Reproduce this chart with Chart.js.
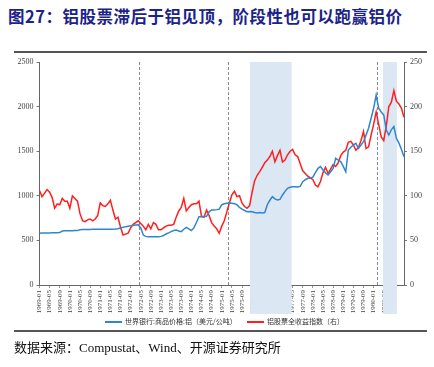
<!DOCTYPE html>
<html><head><meta charset="utf-8">
<script src="https://cdn.jsdelivr.net/npm/chart.js@4/dist/chart.umd.min.js"></script>
<style>
html,body{margin:0;padding:0;background:#fff;}
#wrap{position:relative;width:434px;height:367px;overflow:hidden;}
#title{position:absolute;left:8px;top:4px;font-family:"Noto Sans CJK SC";font-weight:bold;font-size:16.5px;color:#1b2388;white-space:nowrap;letter-spacing:0.5px;}
.rule{position:absolute;left:14px;width:413px;height:2px;background:#555;}
#src{position:absolute;left:14px;top:337px;font-family:"Liberation Serif","Noto Sans CJK SC";font-size:13px;color:#111;white-space:nowrap;}
#legend{position:absolute;top:315px;left:0;width:434px;height:12px;font-family:"Noto Sans CJK SC";font-size:7px;color:#333;}
.li{position:absolute;top:0;white-space:nowrap;line-height:12px;}
.sw{display:inline-block;width:17px;height:2px;vertical-align:middle;margin-right:3px;}
canvas{position:absolute;left:0;top:0;}
</style></head>
<body><div id="wrap">
<div id="title">图27：铝股票滞后于铝见顶，阶段性也可以跑赢铝价</div>
<div class="rule" style="top:51px"></div>
<canvas id="c" width="434" height="367"></canvas>
<div id="legend">
 <div class="li" style="left:105px"><span class="sw" style="background:#2f86cf"></span>世界银行:商品价格:铝（美元/公吨）</div>
 <div class="li" style="left:247px"><span class="sw" style="background:#ff1f1f"></span>铝股票全收益指数（右）</div>
</div>
<div class="rule" style="top:330px"></div>
<div id="src">数据来源：Compustat、Wind、开源证券研究所</div>
</div>
<script>
// tick labels every 4 months (month index 0 = 1969-01)
const tickLabels = ["1969-01","1969-05","1969-09","1970-01","1970-05","1970-09","1971-01","1971-05","1971-09",
 "1972-01","1972-05","1972-09","1973-01","1973-05","1973-09","1974-01","1974-05","1974-09",
 "1975-01","1975-05","1975-09","1976-01","1976-05","1976-09","1977-01","1977-05","1977-09",
 "1978-01","1978-05","1978-09","1979-01","1979-05","1979-09","1980-01","1980-05","1980-09"];
// monthly aluminum price, USD/t (left axis), 1969-01 .. 1981-01
const aluminumPrice = [
 580,582,583,583,584,585,585,586,588,605,608,609,609,609,610,610,
 620,622,622,623,623,624,624,624,625,625,625,625,626,626,627,630,
 638,647,652,658,663,670,673,675,640,560,545,541,540,540,541,542,545,
 555,572,585,598,610,617,605,598,625,647,630,610,640,700,766,766,768,770,
 820,841,841,845,850,900,910,916,918,916,912,900,870,850,835,822,825,822,
 812,808,812,808,812,900,950,990,965,953,960,1009,1050,1084,1095,1102,1102,1100,1105,
 1158,1180,1196,1198,1210,1260,1308,1327,1290,1255,1233,1270,1308,1420,1400,1383,1330,1270,
 1513,1545,1570,1588,1532,1570,1607,1680,1757,1870,1981,2130,1981,1940,1906,1738,1682,1740,1776,1644,1590,1520,1438];
// monthly aluminum equity total-return index (right axis)
const stockIndex = [
 106,99,103,107,104,98,86,91,90,97,94,94,86,100,97,94,80,72,71,73,74,72,74,78,
 92,89,88,91,95,84,74,76,65,56,57,58,64,68,70,72,69,66,62,68,63,70,68,62,62,64,
 66,67,67,68,76,83,87,97,83,87,90,91,91,94,77,76,84,78,70,66,63,58,66,72,82,92,
 101,105,99,100,92,88,86,89,104,117,123,127,132,137,140,144,150,138,145,151,138,140,146,150,
 152,146,144,136,128,125,122,120,118,112,110,116,126,132,125,130,135,133,137,145,149,151,
 160,161,157,151,154,162,172,153,155,168,180,194,180,166,162,178,200,205,218,206,203,198,188];
// event markers (month index)
const dashedMonths = [39.5, 74.5, 133.3];
const shadedRanges = [[83.2, 99.6], [135.7, 141.2]];

const bluePts = aluminumPrice.map((v,i)=>({x:i,y:v}));
const redPts = stockIndex.map((v,i)=>({x:i,y:v}));

const decor = {
  id:'decor',
  beforeDatasetsDraw(chart){
    const {ctx, chartArea:a, scales:{x}} = chart;
    ctx.save();
    ctx.fillStyle = '#dce7f4';
    shadedRanges.forEach(r=>{
      const x0 = x.getPixelForValue(r[0]), x1 = x.getPixelForValue(r[1]);
      ctx.fillRect(x0, a.top, x1-x0, a.bottom - a.top + 29);
    });
    ctx.strokeStyle = '#8a8a8a'; ctx.lineWidth = 1; ctx.setLineDash([3,2]);
    dashedMonths.forEach(m=>{
      const px = Math.round(x.getPixelForValue(m))+0.5;
      ctx.beginPath(); ctx.moveTo(px, a.top); ctx.lineTo(px, a.bottom); ctx.stroke();
    });
    ctx.restore();
  }
};

const tickFont = {family:'"Liberation Serif"', size:8};
new Chart(document.getElementById('c'), {
  type:'line',
  data:{datasets:[
    {label:'世界银行:商品价格:铝（美元/公吨）', data:bluePts, yAxisID:'y', borderColor:'#2f86cf', borderWidth:1.5, pointRadius:0, tension:0},
    {label:'铝股票全收益指数（右）', data:redPts, yAxisID:'y1', borderColor:'#ff1f1f', borderWidth:1.5, pointRadius:0, tension:0}
  ]},
  options:{
    responsive:false, animation:false, events:[],
    layout:{padding:{top:62,left:0,right:0,bottom:0}},
    plugins:{legend:{display:false}, tooltip:{enabled:false}},
    scales:{
      x:{type:'linear', min:0, max:144,
        afterBuildTicks(s){ s.ticks = s.ticks.filter(t=>t.value<144 && t.value%4===0); },
        afterFit(s){ s.height = 82; },
        ticks:{stepSize:4, autoSkip:false, minRotation:90, maxRotation:90, padding:2,
          font:{family:'"Liberation Serif"', size:7}, color:'#444',
          callback:(v)=>tickLabels[v/4]},
        grid:{display:true, drawOnChartArea:false, tickLength:3, color:'#999'},
        border:{color:'#666', width:1}
      },
      y:{position:'left', min:0, max:2500,
        afterFit(s){ s.width = 39.5; },
        ticks:{stepSize:500, font:tickFont, color:'#444', padding:3, callback:(v)=>String(v)},
        grid:{drawOnChartArea:false, tickLength:3, color:'#777'},
        border:{color:'#666', width:1}
      },
      y1:{position:'right', min:0, max:250,
        afterFit(s){ s.width = 30; },
        ticks:{stepSize:50, font:tickFont, color:'#444', padding:3, callback:(v)=>String(v)},
        grid:{drawOnChartArea:false, tickLength:3, color:'#777'},
        border:{color:'#666', width:1}
      }
    }
  },
  plugins:[decor]
});
</script>
</body></html>
